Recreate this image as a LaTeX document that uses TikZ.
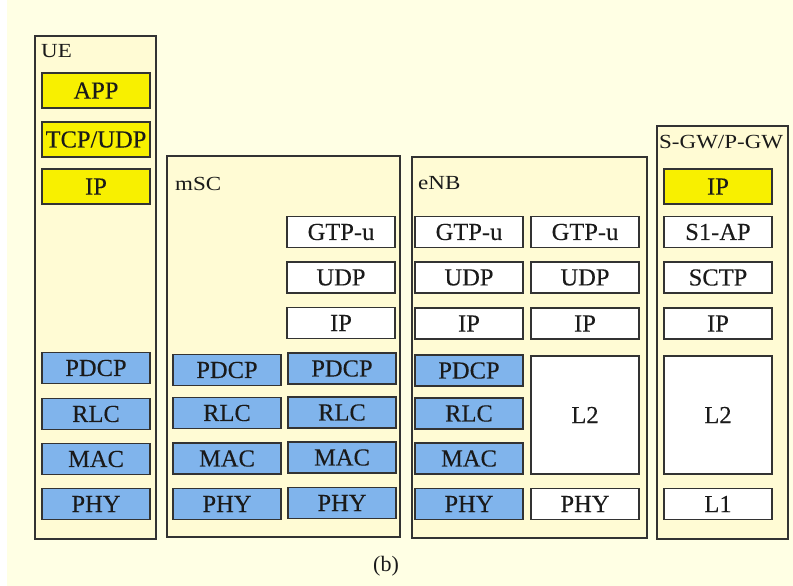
\documentclass[tikz,border=0pt]{standalone}
\usepackage{fontspec}
\setmainfont{Liberation Serif}[FakeBold=0.12]
\newfontfamily\lblfont{Liberation Serif}[FakeStretch=1.15]
\newfontfamily\capfont{Liberation Serif}
\definecolor{pagebg}{HTML}{FFFFE4}
\definecolor{framebg}{HTML}{FFFBD4}
\definecolor{ybox}{HTML}{F8F000}
\definecolor{bbox}{HTML}{80B4EC}
\definecolor{edge}{HTML}{333333}
\definecolor{txt}{HTML}{1A1A1A}
\begin{document}
\begin{tikzpicture}[x=1pt,y=-1pt,
  frame/.style={draw=edge,line width=1.6pt,fill=framebg,inner sep=0pt},
  layer/.style={draw=edge,line width=1.6pt,inner sep=0pt,minimum width=108pt,minimum height=31pt,
    text=txt,font=\fontsize{24.5}{25}\selectfont},
  yl/.style={layer,fill=ybox,minimum height=35pt},
  bl/.style={layer,fill=bbox},
  wl/.style={layer,fill=white},
  lbl/.style={anchor=west,inner sep=0pt,text=txt,font=\lblfont\fontsize{20}{21}\selectfont}]
\useasboundingbox (0,0) rectangle (793,586);
\fill[white] (0,0) rectangle (793,586);
\fill[pagebg] (7,0) rectangle (793,586);
% frames
\node[frame,minimum width=121pt,minimum height=503pt] (ue) at (95.5,287.5) {};
\node[frame,minimum width=233pt,minimum height=381pt] (msc) at (283.5,346.5) {};
\node[frame,minimum width=235pt,minimum height=381pt] (enb) at (529.5,347.5) {};
\node[frame,minimum width=131pt,minimum height=413pt] (sgw) at (722.5,332.5) {};
\node[lbl] (uelbl) at (41,51) {UE};
\node[lbl] (msclbl) at (175,184) {mSC};
\node[lbl] (enblbl) at (418,183) {eNB};
\node[lbl] (sgwlbl) at (659,142) {S-GW/P-GW};
% UE
\node[yl] (ueapp) at (96,90.5) {APP};
\node[yl] (uetcp) at (96,139.5) {TCP/UDP};
\node[yl] (ueip) at (96,186.5) {IP};
\node[bl] (uepdcp) at (96,368) {PDCP};
\node[bl] (uerlc) at (96,414) {RLC};
\node[bl] (uemac) at (96,459) {MAC};
\node[bl] (uephy) at (96,504) {PHY};
% mSC
\node[wl] (mscgtp) at (341,232) {GTP-u};
\node[wl] (mscudp) at (341,277.5) {UDP};
\node[wl] (mscip) at (341,323) {IP};
\node[bl] (mscpdcpa) at (227,370) {PDCP};
\node[bl] (mscrlca) at (227,413) {RLC};
\node[bl] (mscmaca) at (227,458.5) {MAC};
\node[bl] (mscphya) at (227,504) {PHY};
\node[bl] (mscpdcpb) at (342,368.5) {PDCP};
\node[bl] (mscrlcb) at (342,412.5) {RLC};
\node[bl] (mscmacb) at (342,457.5) {MAC};
\node[bl] (mscphyb) at (342,503) {PHY};
% eNB
\node[wl] (enbgtpa) at (469,232) {GTP-u};
\node[wl] (enbudpa) at (469,277.5) {UDP};
\node[wl] (enbipa) at (469,323.5) {IP};
\node[wl] (enbgtpb) at (585,232) {GTP-u};
\node[wl] (enbudpb) at (585,277.5) {UDP};
\node[wl] (enbipb) at (585,323.5) {IP};
\node[bl] (enbpdcp) at (469,370.5) {PDCP};
\node[bl] (enbrlc) at (469,413.5) {RLC};
\node[bl] (enbmac) at (469,458.5) {MAC};
\node[bl] (enbphy) at (469,504) {PHY};
\node[wl,minimum height=118pt] (enbl2) at (585,415) {L2};
\node[wl] (enbphyb) at (585,504) {PHY};
% S-GW/P-GW
\node[yl] (sgwip) at (718,186.5) {IP};
\node[wl] (sgws1) at (718,232) {S1-AP};
\node[wl] (sgwsctp) at (718,277.5) {SCTP};
\node[wl] (sgwipb) at (718,323.5) {IP};
\node[wl,minimum height=118pt] (sgwl2) at (718,415) {L2};
\node[wl] (sgwl1) at (718,504) {L1};
\node[text=txt,font=\capfont\fontsize{22}{23}\selectfont] (cap) at (386,566) {(b)};
\end{tikzpicture}
\end{document}
